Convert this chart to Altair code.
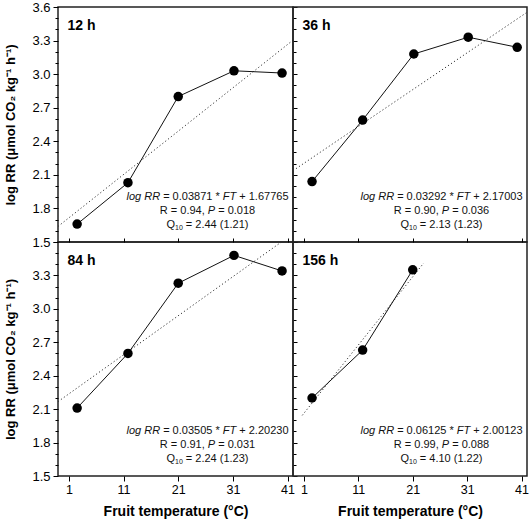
import altair as alt
import pandas as pd

# ---------------- data ----------------
panel_labels = ["12 h", "36 h", "84 h", "156 h"]

temps_12 = [2.5, 11.8, 21.0, 31.2, 40.0]
rr_12 = [1.66, 2.03, 2.80, 3.03, 3.01]

temps_36 = [2.5, 11.8, 21.2, 31.2, 40.2]
rr_36 = [2.04, 2.59, 3.18, 3.33, 3.24]

temps_84 = [2.5, 11.8, 21.0, 31.2, 40.0]
rr_84 = [2.11, 2.60, 3.23, 3.48, 3.34]

temps_156 = [2.5, 11.8, 21.0]
rr_156 = [2.20, 2.63, 3.35]

slopes = ["0.03871", "0.03292", "0.03505", "0.06125"]
intercepts = ["1.67765", "2.17003", "2.20230", "2.00123"]
r_values = ["0.94", "0.90", "0.91", "0.99"]
p_values = ["0.018", "0.036", "0.031", "0.088"]
q10_values = ["2.44 (1.21)", "2.13 (1.23)", "2.24 (1.23)", "4.10 (1.22)"]
fit_ranges = [[-1, 42], [-1, 42], [-1, 42], [0.7, 23.0]]

x_ticks = [1, 11, 21, 31, 41]
y_ticks = [round(1.5 + 0.1 * i, 1) for i in range(22)]

x_title = "Fruit temperature (°C)"
y_title = "log RR (μmol CO₂ kg⁻¹ h⁻¹)"

FONT = "Liberation Sans"

# Arial / Liberation Sans advance widths (per 1000 em)
W = {' ': 278, '(': 333, ')': 333, '*': 389, '+': 584, ',': 278, '.': 278,
     '=': 584, 'F': 611, 'P': 667, 'Q': 778, 'R': 722, 'T': 611, 'g': 556,
     'l': 222, 'o': 556}
for d in "0123456789":
    W[d] = 556


def tw(s, size):
    return sum(W.get(c, 556) for c in s) * size / 1000.0


MAJOR_TEST = "abs((datum.value - 1.5) / 0.3 - round((datum.value - 1.5) / 0.3)) < 0.01"


def annotation_layers(i, w, h):
    fs = 11
    line1 = [("log RR", "italic", fs, 0), (f" = {slopes[i]} * ", "normal", fs, 0),
             ("FT", "italic", fs, 0), (f" + {intercepts[i]}", "normal", fs, 0)]
    line2 = [(f"R = {r_values[i]}, ", "normal", fs, 0), ("P", "italic", fs, 0),
             (f" = {p_values[i]}", "normal", fs, 0)]
    line3 = [("Q", "normal", fs, 0), ("10", "normal", 7, 3.5),
             (f" = {q10_values[i]}", "normal", fs, 0)]
    right = w - 4.5
    w1 = sum(tw(s, size) for s, _, size, _ in line1)
    center = right - w1 / 2
    layers = []
    for line, yy in zip([line1, line2, line3], [h - 45.5, h - 31.5, h - 17.5]):
        total = sum(tw(s, size) for s, _, size, _ in line)
        cur = center - total / 2
        for s, style, size, dy in line:
            lead = len(s) - len(s.lstrip())
            xpos = cur + tw(s[:lead], size)
            layers.append(
                alt.Chart(alt.Data(values=[{"t": s.strip()}]))
                .mark_text(align="left", baseline="middle", fontSize=size,
                           fontStyle=style, dy=dy, color="#111", font=FONT)
                .encode(x=alt.value(xpos), y=alt.value(yy), text="t:N")
            )
            cur += tw(s, size)
    return layers


def panel(i, temps, rr, w, h, left, bottom):
    xs = alt.Scale(domain=[-1, 42], nice=False, zero=False)
    ys = alt.Scale(domain=[1.5, 3.6], nice=False, zero=False)
    df = pd.DataFrame({"FT": temps, "RR": rr})

    tick_cond = {"condition": {"test": MAJOR_TEST, "value": 5}, "value": 3}
    if left:
        label_test = MAJOR_TEST if not bottom else f"({MAJOR_TEST}) && datum.value < 3.55"
        main_y = alt.Axis(orient="left", values=y_ticks, title=y_title,
                          labelExpr=f"({label_test}) ? format(datum.value, '.1f') : ''",
                          tickSize=tick_cond, labelPadding=3, labelFontSize=13,
                          labelOverlap=False, labelFlush=False,
                          titleFontSize=13, titleFontWeight="bold", titlePadding=14,
                          domain=False, grid=False)
        extra_y = alt.Axis(orient="right", values=y_ticks, title="", labels=False,
                           tickSize={"condition": {"test": MAJOR_TEST, "value": 4}, "value": 3},
                           domain=False, grid=False)
    else:
        main_y = None
        extra_y = None
    if bottom:
        main_x = alt.Axis(orient="bottom", values=x_ticks, title=x_title, format="d",
                          tickSize=5, labelPadding=2, labelFontSize=12.5,
                          labelOverlap=False, labelFlush=False,
                          titleFontSize=14, titleFontWeight="bold", titlePadding=9,
                          domain=False, grid=False)
        extra_x = alt.Axis(orient="top", values=x_ticks, title="", labels=False,
                           tickSize=4, domain=False, grid=False)
    else:
        main_x = None
        extra_x = None

    fit = (
        alt.Chart(pd.DataFrame({"FT": fit_ranges[i]}))
        .transform_calculate(RR=f"{slopes[i]} * datum.FT + {intercepts[i]}")
        .mark_line(clip=True, strokeDash=[1.2, 2.4], color="#333", strokeWidth=1)
        .encode(x=alt.X("FT:Q", scale=xs, axis=None),
                y=alt.Y("RR:Q", scale=ys, axis=None))
    )
    line = (
        alt.Chart(df)
        .mark_line(color="#111", strokeWidth=1)
        .encode(x=alt.X("FT:Q", scale=xs, axis=main_x),
                y=alt.Y("RR:Q", scale=ys, axis=main_y))
    )
    pts = (
        alt.Chart(df)
        .mark_circle(size=90, color="black", opacity=1)
        .encode(x=alt.X("FT:Q", scale=xs, axis=extra_x),
                y=alt.Y("RR:Q", scale=ys, axis=extra_y))
    )
    label = (
        alt.Chart(alt.Data(values=[{"t": panel_labels[i]}]))
        .mark_text(align="left", baseline="alphabetic", fontSize=14,
                   fontWeight="bold", color="black", font=FONT)
        .encode(x=alt.value(9.5), y=alt.value(23), text="t:N")
    )
    layers = [fit, line, pts, label] + annotation_layers(i, w, h)
    return (
        alt.layer(*layers)
        .resolve_axis(x="independent", y="independent")
        .properties(width=w, height=h)
    )


p1 = panel(0, temps_12, rr_12, 235, 235, True, False)
p2 = panel(1, temps_36, rr_36, 234, 235, False, False)
p3 = panel(2, temps_84, rr_84, 235, 234, True, True)
p4 = panel(3, temps_156, rr_156, 234, 234, False, True)

chart = (
    alt.concat(p1, p2, p3, p4, columns=2, spacing=0, bounds="flush")
    .properties(padding={"left": 4, "top": 0, "right": 0, "bottom": 0})
    .configure_view(stroke="#222", strokeWidth=1.5)
    .configure_axis(labelFont=FONT, titleFont=FONT, labelColor="black",
                    titleColor="black", tickColor="black", tickWidth=1)
)

chart.save("out.html", embed_options={"renderer": "svg", "actions": False})
